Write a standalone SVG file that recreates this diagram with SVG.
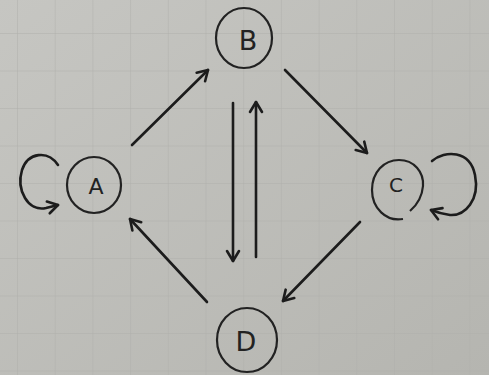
<svg xmlns="http://www.w3.org/2000/svg" width="489" height="375" viewBox="0 0 489 375">
<defs>
<linearGradient id="paper" x1="0" y1="0" x2="1" y2="1">
<stop offset="0" stop-color="#c6c6c2"/>
<stop offset="1" stop-color="#b5b5b0"/>
</linearGradient>
<pattern id="grid" x="17" y="33" width="37.7" height="37.5" patternUnits="userSpaceOnUse">
<path d="M0 0 H37.7 M0 0 V37.5" fill="none" stroke="#b0b0ab" stroke-width="1"/>
</pattern>
<marker id="ah" viewBox="-12 -8 14 16" refX="0" refY="0" markerWidth="14" markerHeight="16" markerUnits="userSpaceOnUse" orient="auto">
<polyline points="-10,-6 0,0 -10,6" fill="none" stroke="#1c1c1c" stroke-width="2.6" stroke-linecap="round" stroke-linejoin="round"/>
</marker>
<style>
.n{fill:none;stroke:#222;stroke-width:2.2}
.t{font-family:"DejaVu Sans",sans-serif;fill:#222;text-anchor:middle;dominant-baseline:central}
.e{fill:none;stroke:#1c1c1c;stroke-width:2.6;stroke-linecap:round;marker-end:url(#ah)}
</style>
</defs>
<rect width="489" height="375" fill="url(#paper)"/>
<rect width="489" height="375" fill="url(#grid)"/>
<g id="node-A"><ellipse class="n" cx="94" cy="185" rx="27" ry="28"/><text class="t" x="96" y="186" font-size="22">A</text></g>
<g id="node-B"><ellipse class="n" cx="244" cy="38" rx="28" ry="30"/><text class="t" x="248" y="40" font-size="27">B</text></g>
<g id="node-C"><path class="n" d="M403,219 C386,222 372,208 372,190 C372,172 384,160 399,160 C414,160 424,172 423,186 C422,198 417,205 410,211"/><text class="t" x="396" y="185" font-size="20">C</text></g>
<g id="node-D"><ellipse class="n" cx="247" cy="340" rx="30" ry="32"/><text class="t" x="246" y="341" font-size="27">D</text></g>
<g id="edges">
<path class="e" d="M132,145 L208,70"/>
<path class="e" d="M285,70 L367,153"/>
<path class="e" d="M360,222 L283,301"/>
<path class="e" d="M207,302 L130,219"/>
<path class="e" d="M233,103 L233,261"/>
<path class="e" d="M256,257 L256,102"/>
<path class="e" d="M58,165 C48,150 28,152 22,170 C16,190 28,212 46,208 C50,207 54,206 58,205"/>
<path class="e" d="M432,161 C445,150 470,150 475,175 C480,200 465,216 450,215 C442,214 436,212 431,210"/>
</g>
</svg>
